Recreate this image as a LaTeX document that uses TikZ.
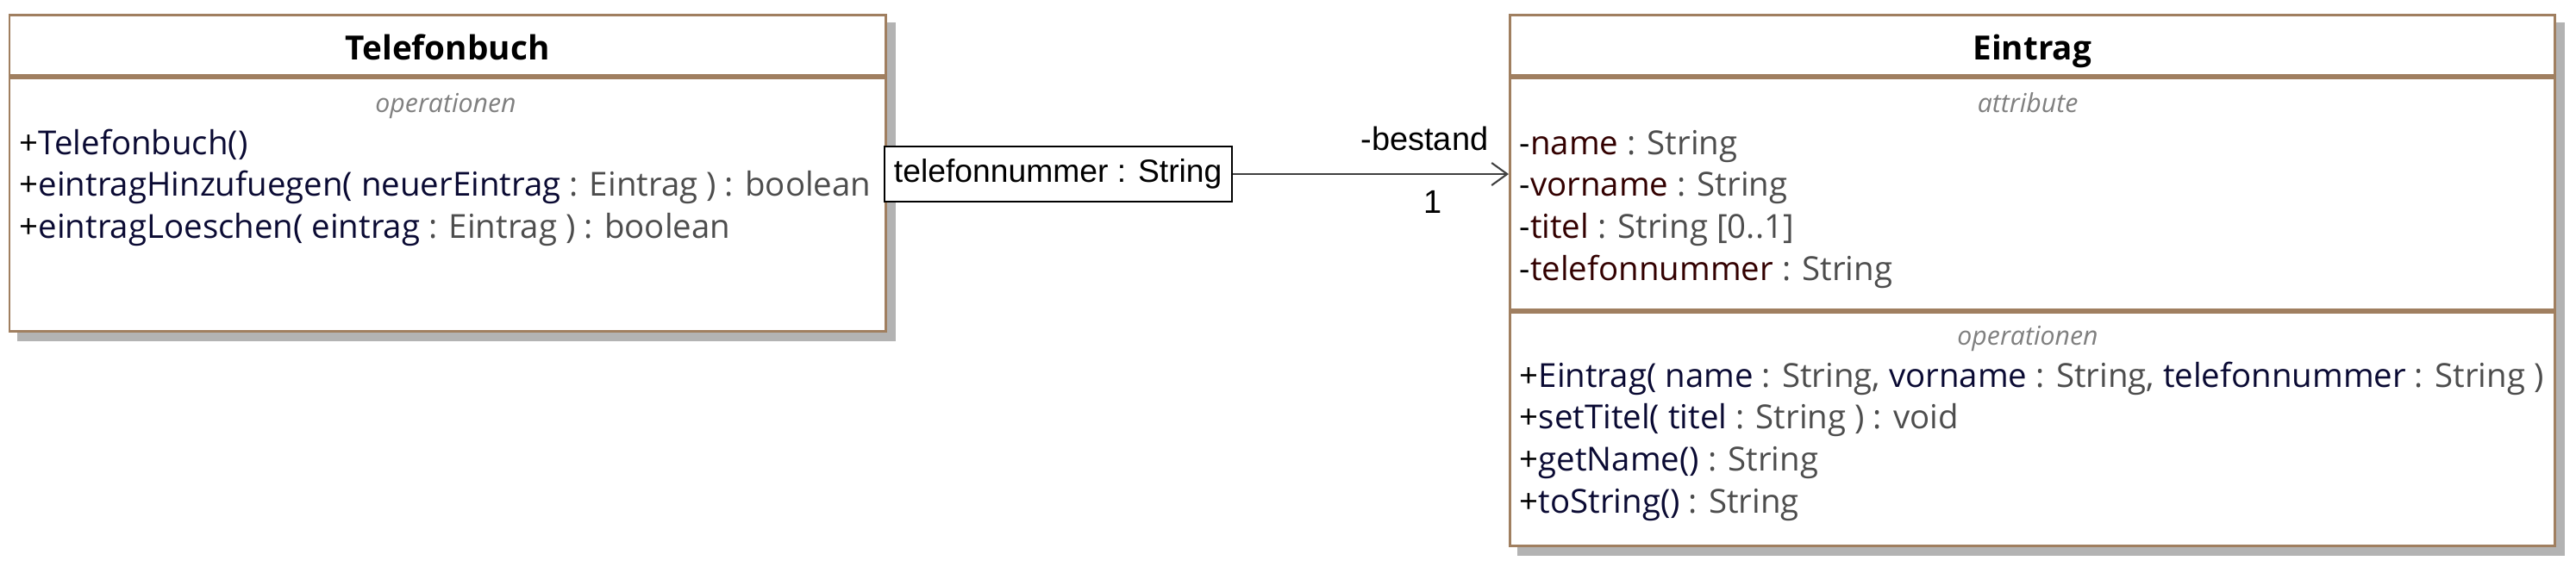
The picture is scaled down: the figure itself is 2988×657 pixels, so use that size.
\documentclass[tikz,border=0pt]{standalone}
\usepackage{fontspec}
\setmainfont{Open Sans}
\newfontfamily\arialfont{Liberation Sans}
\usetikzlibrary{arrows.meta,backgrounds}

\definecolor{umlborder}{HTML}{A07F60}
\definecolor{umlshadow}{HTML}{B3B3B3}
\definecolor{opnavy}{HTML}{0A0A33}
\definecolor{attmaroon}{HTML}{330000}
\definecolor{typgray}{HTML}{4D4D4D}
\definecolor{lblgray}{HTML}{808080}
\definecolor{assocgray}{HTML}{404040}

\newcommand{\opname}[1]{\textcolor{opnavy}{#1}}
\newcommand{\attname}[1]{\textcolor{attmaroon}{#1}}
\newcommand{\typname}[1]{\textcolor{typgray}{#1}}

\tikzset{
  classhead/.style={draw=umlborder, line width=0.85pt, fill=white, minimum height=0.7cm,
    inner sep=0pt, text height=0.34cm, text depth=0pt, font=\fontsize{11}{13}\selectfont\bfseries},
  classpart/.style={draw=umlborder, line width=0.85pt, fill=white, inner sep=0pt, anchor=north},
  partlabel/.style={anchor=base, text=lblgray, inner sep=0pt, font=\fontsize{8.6}{10}\selectfont\itshape},
  member/.style={anchor=base west, inner sep=0pt, font=\fontsize{10.92}{13}\selectfont},
  qualbox/.style={draw=black, line width=0.6pt, fill=white, minimum width=4.03cm, minimum height=0.64cm,
    inner sep=0pt, font=\arialfont\fontsize{10.6}{12}\selectfont},
  assoclabel/.style={inner sep=0pt, font=\arialfont\fontsize{10.8}{13}\selectfont},
  assoc/.style={draw=assocgray, line width=0.6pt, -{Straight Barb[length=0.18cm, width=0.26cm, line width=0.6pt]}},
}

\begin{document}
\begin{tikzpicture}[x=0.01cm, y=-0.01cm]
  \useasboundingbox (0,0) rectangle (2988,657);

  % Class Telefonbuch
  \node[classhead, minimum width=10.155cm, anchor=north west] (tbhead) at (9.5,16) {Telefonbuch};
  \node[classpart, minimum width=10.155cm, minimum height=2.94cm] (tbops) at (tbhead.south) {};
  \node[partlabel] (tbopslbl) at (517,130) {operationen};
  \foreach \txt [count=\i from 0] in {
      {+\opname{Telefonbuch()}},
      {+\opname{eintragHinzufuegen( neuerEintrag} \typname{: Eintrag ) : boolean}},
      {+\opname{eintragLoeschen( eintrag} \typname{: Eintrag ) : boolean}}}
    \node[member] (tbop\i) at (22,{179+48.8*\i}) {\txt};

  % Class Eintrag
  \node[classhead, minimum width=12.11cm, anchor=north west] (eahead) at (1750,16) {Eintrag};
  \node[classpart, minimum width=12.11cm, minimum height=2.69cm] (eaattr) at (eahead.south) {};
  \node[classpart, minimum width=12.11cm, minimum height=2.71cm] (eaops) at (eaattr.south) {};
  \node[partlabel] (eaattrlbl) at (2352,130) {attribute};
  \node[partlabel] (eaopslbl) at (2352,400) {operationen};
  \foreach \txt [count=\i from 0] in {
      {-\attname{name} \typname{: String}},
      {-\attname{vorname} \typname{: String}},
      {-\attname{titel} \typname{: String [0..1]}},
      {-\attname{telefonnummer} \typname{: String}}}
    \node[member] (eaattr\i) at (1762,{179+48.8*\i}) {\txt};
  \foreach \txt [count=\i from 0] in {
      {+\opname{Eintrag( name} \typname{: String,} \opname{vorname} \typname{: String,} \opname{telefonnummer} \typname{: String )}},
      {+\opname{setTitel( titel} \typname{: String ) : void}},
      {+\opname{getName()} \typname{: String}},
      {+\opname{toString()} \typname{: String}}}
    \node[member] (eaop\i) at (1762,{449+48.8*\i}) {\txt};

  % Shadows
  \begin{scope}[on background layer]
    \fill[umlshadow] ([shift={(10,10)}]tbhead.north west) rectangle ([shift={(10,10)}]tbops.south east);
    \fill[umlshadow] ([shift={(10,10)}]eahead.north west) rectangle ([shift={(10,10)}]eaops.south east);
  \end{scope}

  % Association
  \node[qualbox, anchor=west] (qual) at (1024.5,202) {telefonnummer : String};
  \draw[assoc] (qual.east) -- (qual.east -| eaattr.west);
  \node[assoclabel, anchor=base east] (role) at (1727,174) {-bestand};
  \node[assoclabel, anchor=base] (mult) at (1662,247) {1};
\end{tikzpicture}
\end{document}
